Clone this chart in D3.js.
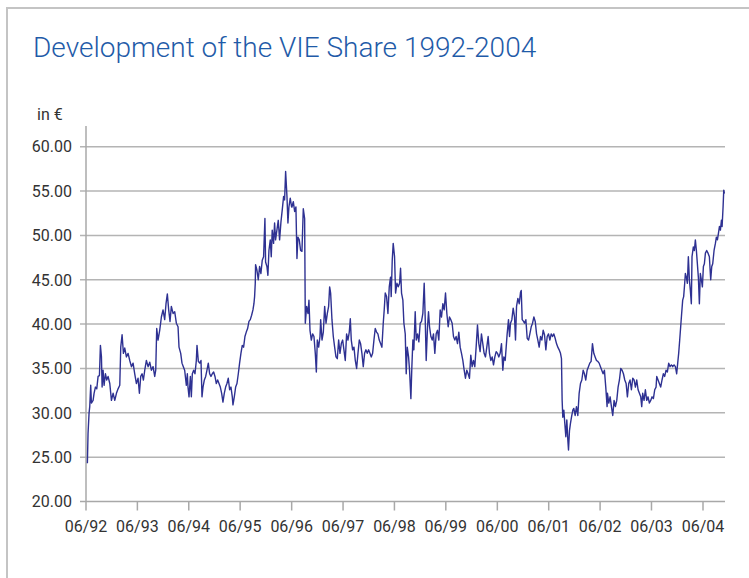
<!DOCTYPE html>
<html>
<head>
<meta charset="utf-8">
<script src="https://cdn.jsdelivr.net/npm/d3@7"></script>
<style>
  body { margin: 0; background: #fff; }
  svg text { font-family: Roboto, "Liberation Sans", sans-serif; }
</style>
</head>
<body>
<div id="chart"></div>
<script>
const chartTitle = 'Development of the VIE Share 1992-2004';
const unitLabel = 'in €';
const yTickValues = [20, 25, 30, 35, 40, 45, 50, 55, 60];
const xTickYears = [1992, 1993, 1994, 1995, 1996, 1997, 1998, 1999, 2000, 2001, 2002, 2003, 2004];
const xTickLabels = ['06/92', '06/93', '06/94', '06/95', '06/96', '06/97', '06/98', '06/99', '06/00', '06/01', '06/02', '06/03', '06/04'];

// sample dates as decimal years
const sampleYears = [
  1992.442, 1992.455, 1992.475, 1992.488, 1992.507, 1992.520, 1992.553, 1992.572, 1992.598, 1992.624,
  1992.650, 1992.676, 1992.695, 1992.715, 1992.728, 1992.747, 1992.766, 1992.792, 1992.818, 1992.844,
  1992.877, 1992.909, 1992.941, 1992.974, 1993.006, 1993.038, 1993.071, 1993.090, 1993.116, 1993.142,
  1993.168, 1993.200, 1993.233, 1993.265, 1993.298, 1993.330, 1993.362, 1993.395, 1993.427, 1993.453,
  1993.479, 1993.505, 1993.531, 1993.557, 1993.589, 1993.622, 1993.654, 1993.686, 1993.719, 1993.751,
  1993.771, 1993.790, 1993.816, 1993.848, 1993.881, 1993.913, 1993.945, 1993.971, 1993.997, 1994.023,
  1994.049, 1994.075, 1994.108, 1994.140, 1994.172, 1994.205, 1994.224, 1994.257, 1994.282, 1994.308,
  1994.334, 1994.367, 1994.386,
  1994.399, 1994.419, 1994.445, 1994.464, 1994.483, 1994.509, 1994.535, 1994.561, 1994.574, 1994.600,
  1994.626, 1994.652, 1994.671, 1994.691, 1994.717, 1994.743, 1994.768, 1994.794, 1994.820, 1994.846,
  1994.872, 1994.898, 1994.924, 1994.950, 1994.976, 1995.002, 1995.028, 1995.054, 1995.079, 1995.105,
  1995.131, 1995.157, 1995.183, 1995.209, 1995.235, 1995.261, 1995.274, 1995.300, 1995.326, 1995.352,
  1995.378, 1995.403, 1995.429, 1995.455, 1995.481, 1995.507, 1995.533, 1995.559, 1995.585, 1995.611,
  1995.637, 1995.663, 1995.682, 1995.695, 1995.708, 1995.714, 1995.740, 1995.766, 1995.792, 1995.818,
  1995.844, 1995.870, 1995.896, 1995.909, 1995.935, 1995.954, 1995.974, 1996.000, 1996.019, 1996.038,
  1996.064, 1996.084, 1996.103, 1996.129, 1996.155, 1996.181, 1996.207, 1996.233, 1996.259, 1996.278,
  1996.298, 1996.324, 1996.343, 1996.362, 1996.388, 1996.414,
  1996.421, 1996.447, 1996.473, 1996.498, 1996.518, 1996.537, 1996.563, 1996.589, 1996.615, 1996.641,
  1996.667, 1996.680, 1996.706, 1996.732, 1996.751, 1996.771, 1996.797, 1996.822, 1996.848, 1996.874,
  1996.894, 1996.913, 1996.939, 1996.965, 1996.978, 1997.004, 1997.030, 1997.056, 1997.082, 1997.108,
  1997.133, 1997.153, 1997.172, 1997.198, 1997.224, 1997.250, 1997.276, 1997.302, 1997.328, 1997.354,
  1997.380, 1997.406, 1997.431, 1997.457, 1997.483, 1997.509, 1997.535, 1997.555, 1997.574, 1997.600,
  1997.626, 1997.652, 1997.678, 1997.704, 1997.730, 1997.755, 1997.781, 1997.807, 1997.833, 1997.859,
  1997.885, 1997.911, 1997.937, 1997.963, 1997.989, 1998.015, 1998.040, 1998.066, 1998.092, 1998.118,
  1998.144, 1998.170, 1998.196, 1998.215, 1998.235, 1998.261, 1998.287, 1998.313, 1998.338, 1998.351,
  1998.371, 1998.390, 1998.416, 1998.436, 1998.462,
  1998.488, 1998.514, 1998.533, 1998.552, 1998.578, 1998.598, 1998.624, 1998.643, 1998.663, 1998.689,
  1998.708, 1998.734, 1998.753, 1998.773, 1998.792, 1998.818, 1998.838, 1998.863, 1998.889, 1998.915,
  1998.941, 1998.967, 1998.993, 1999.012, 1999.032, 1999.058, 1999.077, 1999.097, 1999.123, 1999.149,
  1999.174, 1999.200, 1999.226, 1999.252, 1999.278, 1999.304, 1999.330, 1999.356, 1999.382, 1999.408,
  1999.434, 1999.460, 1999.485, 1999.511, 1999.537, 1999.563, 1999.589, 1999.615, 1999.641, 1999.667,
  1999.693, 1999.719, 1999.745, 1999.771, 1999.796, 1999.822, 1999.848, 1999.874, 1999.900, 1999.926,
  1999.952, 1999.978, 2000.004, 2000.030, 2000.056, 2000.081, 2000.107, 2000.133, 2000.159, 2000.185,
  2000.211, 2000.237, 2000.263, 2000.289, 2000.315, 2000.341, 2000.367, 2000.393, 2000.418, 2000.444,
  2000.470, 2000.496, 2000.522,
  2000.542, 2000.568, 2000.587, 2000.606, 2000.632, 2000.652, 2000.671, 2000.697, 2000.723, 2000.749,
  2000.768, 2000.788, 2000.814, 2000.840, 2000.866, 2000.879, 2000.898, 2000.924, 2000.943, 2000.969,
  2000.995, 2001.021, 2001.047, 2001.073, 2001.099, 2001.125, 2001.151, 2001.177, 2001.202, 2001.228,
  2001.254, 2001.280, 2001.306, 2001.332, 2001.358, 2001.384, 2001.410, 2001.436, 2001.462, 2001.488,
  2001.513, 2001.539, 2001.565, 2001.591, 2001.617, 2001.643, 2001.662, 2001.675, 2001.688, 2001.708,
  2001.727, 2001.747, 2001.766, 2001.786, 2001.799, 2001.818, 2001.837, 2001.857, 2001.883, 2001.902,
  2001.928, 2001.954, 2001.980, 2002.006, 2002.032, 2002.058, 2002.084, 2002.109, 2002.135, 2002.161,
  2002.187, 2002.213, 2002.239, 2002.265, 2002.291, 2002.317, 2002.343, 2002.369, 2002.395, 2002.421,
  2002.446, 2002.472, 2002.498, 2002.524, 2002.550,
  2002.557, 2002.583, 2002.609, 2002.634, 2002.660, 2002.686, 2002.712, 2002.738, 2002.764, 2002.790,
  2002.816, 2002.842, 2002.868, 2002.894, 2002.920, 2002.945, 2002.971, 2002.997, 2003.023, 2003.049,
  2003.075, 2003.101, 2003.127, 2003.153, 2003.179, 2003.205, 2003.224, 2003.243, 2003.269, 2003.295,
  2003.321, 2003.347, 2003.373, 2003.399, 2003.425, 2003.451, 2003.477, 2003.503, 2003.516, 2003.542,
  2003.567, 2003.593, 2003.619, 2003.645, 2003.671, 2003.697, 2003.723, 2003.749, 2003.775, 2003.801,
  2003.827, 2003.853, 2003.879, 2003.904, 2003.924, 2003.943, 2003.963, 2003.982, 2004.001, 2004.021,
  2004.040, 2004.060, 2004.073, 2004.092, 2004.112, 2004.131, 2004.151, 2004.170, 2004.189, 2004.202,
  2004.228, 2004.248, 2004.267, 2004.287, 2004.306, 2004.325, 2004.345, 2004.364, 2004.384, 2004.403,
  2004.423, 2004.442, 2004.462, 2004.487, 2004.513, 2004.539, 2004.565, 2004.585, 2004.604, 2004.630,
  2004.656, 2004.675, 2004.695, 2004.714, 2004.734, 2004.753, 2004.773, 2004.786, 2004.805, 2004.818,
  2004.831
];

// share price in EUR at those dates
const sharePrice = [
  24.3, 27.7, 30.0, 30.7, 33.1, 31.1, 31.4, 32.2, 32.9, 32.7,
  34.1, 34.2, 37.6, 36.3, 32.9, 34.8, 33.1, 34.4, 33.7, 34.1,
  33.3, 31.4, 32.2, 31.4, 32.2, 32.7, 33.1, 37.4, 38.8, 36.7,
  37.3, 36.3, 36.7, 35.9, 35.2, 35.6, 34.4, 33.3, 33.9, 32.2,
  34.1, 34.4, 33.7, 34.8, 35.9, 35.2, 35.7, 34.8, 35.2, 34.1,
  34.8, 39.5, 38.2, 39.3, 40.8, 41.6, 40.5, 42.3, 43.4, 41.6,
  40.3, 42.0, 41.2, 41.4, 40.1, 39.7, 37.4, 36.7, 35.6, 35.2,
  34.8, 33.1, 34.4,
  32.9, 31.8, 34.1, 31.8, 34.4, 34.8, 34.4, 35.9, 37.6, 35.8,
  35.6, 35.9, 31.8, 32.9, 33.7, 34.1, 34.8, 35.6, 34.4, 34.1,
  34.4, 34.6, 34.1, 33.3, 33.7, 33.3, 32.9, 32.2, 31.2, 32.2,
  32.9, 33.3, 33.9, 32.6, 32.9, 31.8, 30.9, 31.8, 32.9, 33.3,
  34.4, 35.6, 36.7, 37.6, 37.4, 38.6, 39.1, 39.5, 40.3, 40.5,
  41.0, 41.6, 42.3, 43.1, 44.6, 46.7, 46.1, 45.0, 46.5, 45.7,
  47.2, 47.6, 51.9, 47.0, 46.5, 45.5, 48.3, 49.5, 47.6, 50.6,
  49.1, 51.4, 49.5, 50.6, 51.7, 49.5, 51.5, 52.9, 54.4, 54.0,
  57.2, 54.4, 51.4, 53.2, 54.2, 53.2,
  53.2, 53.8, 52.7, 53.2, 47.4, 49.8, 49.5, 48.3, 48.2, 53.0,
  51.9, 40.1, 42.0, 41.2, 42.7, 39.3, 38.2, 38.9, 38.6, 36.7,
  34.6, 38.2, 37.4, 38.6, 40.5, 38.2, 39.1, 42.0, 40.1, 41.2,
  42.0, 44.2, 43.5, 40.5, 38.6, 37.4, 36.3, 36.1, 38.2, 36.7,
  37.8, 38.2, 37.1, 35.9, 38.9, 38.2, 39.1, 40.6, 38.2, 37.1,
  37.4, 35.9, 35.0, 36.7, 38.2, 37.8, 36.7, 35.2, 36.7, 37.1,
  36.7, 37.1, 36.7, 36.3, 36.7, 38.2, 39.5, 39.1, 38.9, 38.2,
  37.8, 37.4, 40.1, 41.6, 43.5, 43.1, 41.2, 44.2, 45.3, 43.1,
  47.2, 49.1, 47.6, 43.5, 44.6,
  44.2, 44.6, 46.3, 43.5, 42.7, 40.1, 38.9, 34.4, 37.4, 36.3,
  34.8, 31.6, 35.2, 38.2, 37.1, 41.4, 38.2, 38.9, 38.0, 40.1,
  40.3, 41.2, 44.6, 40.8, 35.9, 39.7, 41.4, 39.7, 38.6, 38.2,
  38.9, 36.7, 38.9, 39.3, 38.2, 41.6, 40.8, 42.3, 41.6, 43.5,
  41.2, 39.7, 40.8, 40.5, 40.1, 38.6, 38.2, 38.6, 37.8, 39.1,
  37.4, 36.7, 35.9, 34.8, 33.9, 34.8, 34.4, 33.9, 36.5, 35.2,
  35.9, 35.2, 37.4, 39.9, 37.8, 36.9, 38.9, 37.8, 36.7, 36.3,
  37.4, 38.6, 36.7, 35.9, 36.3, 35.4, 36.3, 36.9, 36.7, 36.3,
  36.7, 37.8, 34.8,
  36.3, 35.9, 37.4, 38.9, 40.5, 38.6, 40.1, 40.5, 41.8, 40.8,
  38.2, 42.0, 42.9, 42.3, 43.6, 43.8, 40.5, 40.3, 40.1, 40.5,
  38.4, 38.2, 38.9, 39.7, 40.1, 40.8, 40.3, 38.9, 38.2, 37.4,
  38.6, 38.2, 39.3, 38.8, 37.1, 38.6, 38.9, 38.2, 38.9, 38.6,
  38.9, 38.4, 37.8, 37.4, 37.1, 36.7, 36.1, 31.4, 29.5, 30.3,
  28.8, 27.3, 29.2, 26.9, 25.8, 28.0, 28.8, 29.5, 30.3, 30.5,
  29.7, 30.7, 29.7, 32.2, 33.3, 33.7, 34.8, 34.4, 33.7, 34.8,
  35.2, 35.6, 35.8, 37.8, 36.7, 36.3, 35.9, 35.8, 35.6, 35.2,
  34.8, 34.4, 34.8, 32.9, 30.7,
  32.2, 31.1, 31.8, 30.7, 29.7, 31.4, 30.7, 31.4, 32.9, 33.7,
  35.0, 34.8, 34.4, 33.7, 33.3, 31.8, 33.3, 33.7, 32.6, 33.9,
  33.7, 32.9, 33.7, 32.6, 32.2, 31.8, 30.7, 32.2, 31.4, 32.6,
  31.4, 31.8, 31.1, 31.4, 31.8, 31.6, 32.6, 32.9, 34.1, 33.7,
  33.3, 32.9, 33.7, 34.4, 34.1, 34.8, 34.6, 35.6, 35.2, 35.4,
  35.2, 35.4, 35.2, 34.4, 35.6, 36.7, 38.2, 39.7, 41.2, 42.7,
  43.1, 44.6, 45.7, 45.3, 44.6, 47.6, 45.0, 43.8, 42.3, 47.6,
  48.7, 48.3, 49.5, 48.3, 46.8, 45.3, 42.3, 45.7, 45.0, 44.2,
  46.5, 46.8, 48.0, 48.3, 48.0, 47.6, 45.0, 46.5, 46.8, 48.3,
  49.1, 49.8, 49.5, 50.2, 51.0, 50.6, 51.7, 51.0, 53.2, 55.1,
  54.7
];

const width = 749, height = 578;
const margin = { top: 147, right: 24, bottom: 77, left: 86 };

function yearToDate(y) {
  const yr = Math.floor(y);
  const start = new Date(yr, 0, 1), end = new Date(yr + 1, 0, 1);
  return new Date(start.getTime() + (y - yr) * (end - start));
}

const data = sampleYears.map((y, i) => ({ date: yearToDate(y), value: sharePrice[i] }));

const svg = d3.select('#chart')
  .append('svg')
  .attr('width', width)
  .attr('height', height);

// frame (top and left edges only are visible)
svg.append('path')
  .attr('d', 'M7,578 V8 H749')
  .attr('fill', 'none')
  .attr('stroke', '#c4c4c4')
  .attr('stroke-width', 2);

svg.append('text')
  .attr('x', 33)
  .attr('y', 57)
  .attr('fill', '#1f5ba8')
  .attr('font-size', 28)
  .attr('font-weight', 300)
  .text(chartTitle);

const x = d3.scaleTime()
  .domain([new Date(1992, 5, 1), new Date(2004, 5, 1)])
  .range([margin.left, 703]);

const y = d3.scaleLinear()
  .domain([20, 60])
  .range([501.5, 146.7]);

// horizontal grid + y ticks
svg.append('g')
  .selectAll('line')
  .data(yTickValues)
  .enter().append('line')
  .attr('x1', margin.left - 6)
  .attr('x2', width - margin.right)
  .attr('y1', d => y(d))
  .attr('y2', d => y(d))
  .attr('stroke', d => d === 20 ? '#a8a8a8' : '#b4b4b4')
  .attr('stroke-width', 1.5);

svg.append('g')
  .selectAll('text')
  .data(yTickValues)
  .enter().append('text')
  .attr('x', 72)
  .attr('y', d => y(d))
  .attr('dy', '0.36em')
  .attr('text-anchor', 'end')
  .attr('font-size', 16)
  .attr('fill', '#333')
  .text(d => d3.format('.2f')(d));

// y axis line
svg.append('line')
  .attr('x1', margin.left).attr('x2', margin.left)
  .attr('y1', 126).attr('y2', y(20))
  .attr('stroke', '#a8a8a8')
  .attr('stroke-width', 1.5);

svg.append('text')
  .attr('x', 37)
  .attr('y', 120)
  .attr('font-size', 16)
  .attr('fill', '#333')
  .text(unitLabel);

// x ticks
const xTicks = xTickYears.map((yr, i) => ({ date: new Date(yr, 5, 1), label: xTickLabels[i] }));

svg.append('g')
  .selectAll('line')
  .data(xTicks)
  .enter().append('line')
  .attr('x1', d => x(d.date)).attr('x2', d => x(d.date))
  .attr('y1', y(20)).attr('y2', y(20) + 9)
  .attr('stroke', '#a8a8a8')
  .attr('stroke-width', 1.5);

svg.append('g')
  .selectAll('text')
  .data(xTicks)
  .enter().append('text')
  .attr('x', d => x(d.date))
  .attr('y', 532)
  .attr('text-anchor', 'middle')
  .attr('font-size', 16)
  .attr('fill', '#333')
  .text(d => d.label);

const line = d3.line()
  .x(d => x(d.date))
  .y(d => y(d.value));

svg.append('path')
  .datum(data)
  .attr('fill', 'none')
  .attr('stroke', '#2e3192')
  .attr('stroke-width', 1.4)
  .attr('stroke-linejoin', 'round')
  .attr('d', line);
</script>
</body>
</html>
